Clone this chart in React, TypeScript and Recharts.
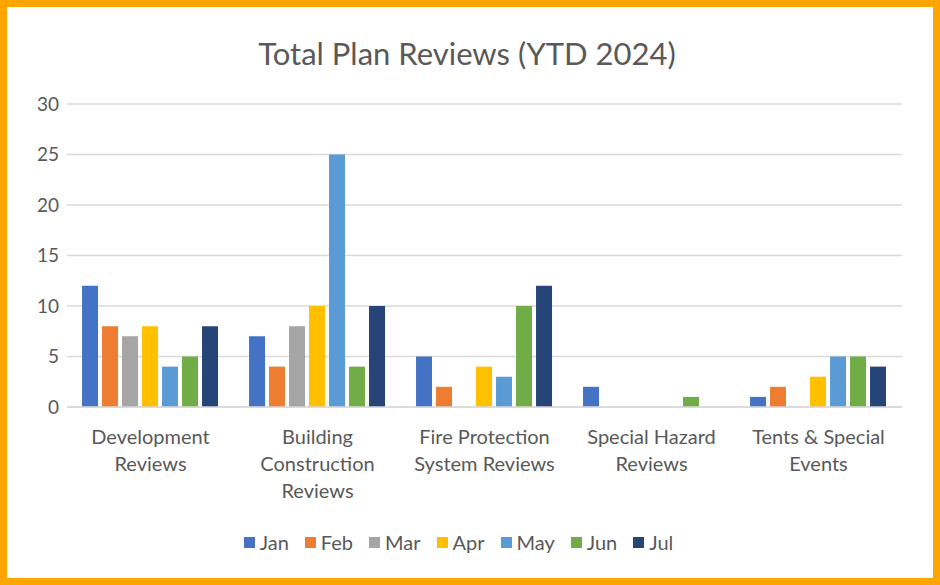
import React from "react";
import { BarChart, Bar, XAxis, YAxis, CartesianGrid, Legend } from "recharts";

const categories = [
  "Development\nReviews",
  "Building\nConstruction\nReviews",
  "Fire Protection\nSystem Reviews",
  "Special Hazard\nReviews",
  "Tents & Special\nEvents",
];
const months = ["Jan", "Feb", "Mar", "Apr", "May", "Jun", "Jul"];
const jan = [12, 7, 5, 2, 1];
const feb = [8, 4, 2, 0, 2];
const mar = [7, 8, 0, 0, 0];
const apr = [8, 10, 4, 0, 3];
const may = [4, 25, 3, 0, 5];
const jun = [5, 4, 10, 1, 5];
const jul = [8, 10, 12, 0, 4];
const yTicks = [0, 5, 10, 15, 20, 25, 30];
const colors = ["#4472C4", "#ED7D31", "#A5A5A5", "#FFC000", "#5B9BD5", "#70AD47", "#264478"];

const seriesValues = [jan, feb, mar, apr, may, jun, jul];
const data = categories.map((c, i) => {
  const row: Record<string, any> = { name: c };
  months.forEach((m, k) => (row[m] = seriesValues[k][i]));
  return row;
});

const FONT = "Lato, 'Open Sans', sans-serif";
const TXT = "#595959";

const CatTick = (props: any) => {
  const { x, y, payload } = props;
  const lines = String(payload.value).split("\n");
  return (
    <g transform={`translate(${x},${y})`}>
      {lines.map((l, i) => (
        <text key={i} x={0} y={i * 27} dy={29} textAnchor="middle" fill={TXT} fontSize={20} fontFamily={FONT}>
          {l}
        </text>
      ))}
    </g>
  );
};

const legendPayload = months.map((m, k) => ({ value: m, color: colors[k], id: m }));

const LegendContent = () => (
  <div style={{ display: "flex", justifyContent: "center", fontFamily: FONT, fontSize: 20, color: TXT }}>
    {legendPayload.map((p) => (
      <div key={p.id} style={{ display: "flex", alignItems: "center", margin: "0 8px" }}>
        <span style={{ display: "inline-block", width: 11, height: 11, background: p.color, marginRight: 5 }} />
        <span>{p.value}</span>
      </div>
    ))}
  </div>
);

export default function App() {
  return (
    <div style={{ position: "absolute", left: 0, top: 0, width: 940, height: 585, background: "#fff" }}>
      <div
        style={{
          position: "absolute",
          left: 0,
          top: 0,
          width: 940,
          height: 585,
          boxSizing: "border-box",
          border: "7px solid #FFA500",
          pointerEvents: "none",
          zIndex: 2,
        }}
      />
      <div
        style={{
          position: "absolute",
          left: 0,
          top: 33,
          width: 934,
          textAlign: "center",
          fontFamily: FONT,
          fontSize: 31,
          color: TXT,
          lineHeight: "40px",
        }}
      >
        Total Plan Reviews (YTD 2024)
      </div>
      <BarChart
        width={940}
        height={585}
        data={data}
        margin={{ top: 104, right: 38, left: 15, bottom: 20 }}
        barCategoryGap="9%"
        barGap={4}
      >
        <CartesianGrid vertical={false} stroke="#D9D9D9" strokeWidth={1.5} />
        <XAxis
          dataKey="name"
          interval={0}
          tick={<CatTick />}
          tickLine={false}
          axisLine={{ stroke: "#D9D9D9", strokeWidth: 1.5 }}
          height={134}
        />
        <YAxis
          width={52}
          domain={[0, 30]}
          ticks={yTicks}
          tickLine={false}
          axisLine={false}
          tick={{ fill: TXT, fontSize: 19, fontFamily: FONT }}
          tickMargin={2}
        />
        <Legend verticalAlign="bottom" content={<LegendContent />} wrapperStyle={{ top: 530 }} />
        {months.map((m, k) => (
          <Bar key={m} dataKey={m} fill={colors[k]} isAnimationActive={false} />
        ))}
      </BarChart>
    </div>
  );
}
